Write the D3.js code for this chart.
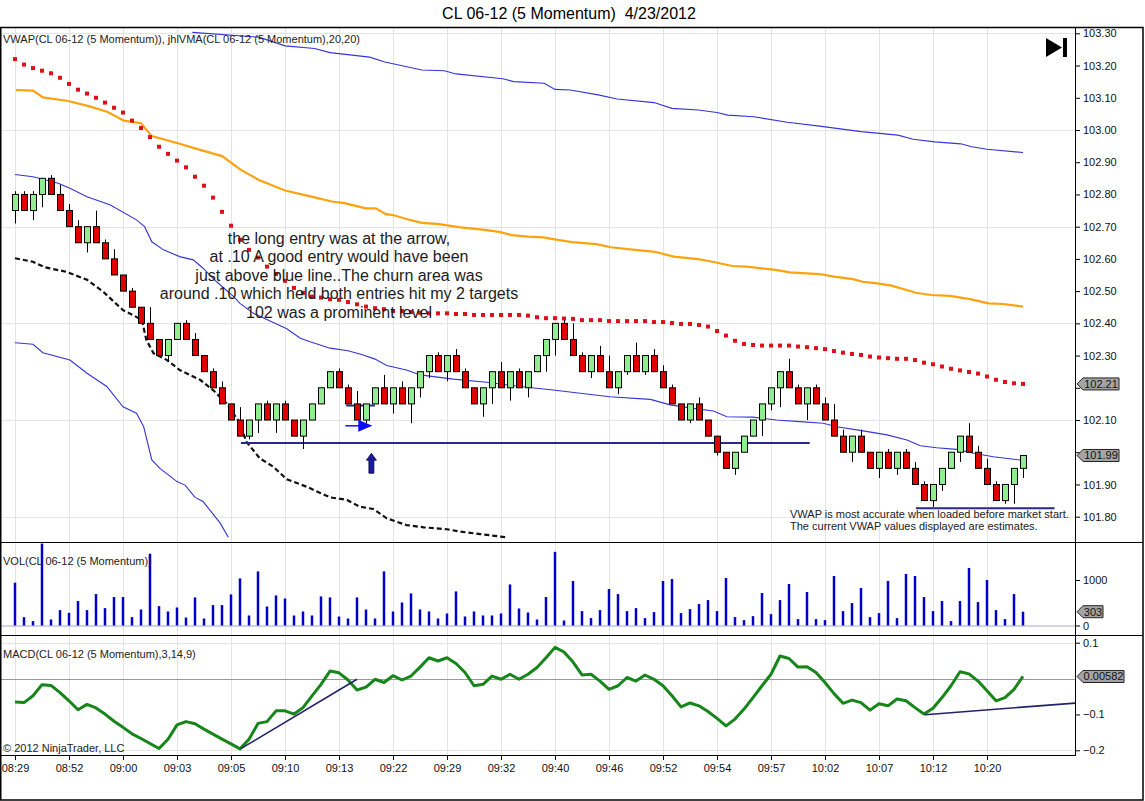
<!DOCTYPE html>
<html>
<head>
<meta charset="utf-8">
<script src="https://cdn.jsdelivr.net/npm/d3@7"></script>
<style>
  body { margin: 0; background: #fff; }
  svg { display: block; font-family: "Liberation Sans", Arial, sans-serif; }
</style>
</head>
<body>
<div id="chart"></div>
<script>
// Bar data (5 tick momentum bars), bar numbers start at 1.
const openP = [
  102.75,102.80,102.75,102.80,102.85,102.80,102.75,102.70,102.65,102.70,
  102.65,102.60,102.55,102.50,102.45,102.40,102.35,102.30,102.35,102.40,
  102.35,102.30,102.25,102.20,102.15,102.10,102.05,102.10,102.15,102.10,
  102.15,102.10,102.05,102.10,102.15,102.20,102.25,102.20,102.15,102.10,
  102.15,102.20,102.15,102.20,102.15,102.20,102.25,102.30,102.25,102.30,
  102.25,102.20,102.15,102.20,102.25,102.20,102.25,102.20,102.25,102.30,
  102.35,102.40,102.35,102.30,102.25,102.30,102.25,102.20,102.25,102.30,
  102.25,102.30,102.25,102.20,102.15,102.10,102.15,102.10,102.05,102.00,
  101.95,102.00,102.05,102.10,102.15,102.20,102.25,102.20,102.15,102.20,
  102.15,102.10,102.05,102.00,102.05,102.00,101.95,102.00,101.95,102.00,
  101.95,101.90,101.85,101.90,101.95,102.00,102.05,102.00,101.95,101.90,
  101.85,101.90,101.95];
const highP = [
  102.81,102.81,102.81,102.85,102.86,102.83,102.77,102.72,102.70,102.75,
  102.66,102.63,102.55,102.51,102.45,102.45,102.35,102.35,102.40,102.41,
  102.37,102.30,102.26,102.22,102.15,102.14,102.10,102.15,102.16,102.15,
  102.16,102.10,102.10,102.15,102.20,102.25,102.26,102.21,102.19,102.15,
  102.20,102.24,102.20,102.22,102.20,102.25,102.30,102.31,102.30,102.32,
  102.26,102.20,102.20,102.25,102.28,102.25,102.26,102.25,102.30,102.35,
  102.40,102.41,102.40,102.31,102.30,102.33,102.30,102.25,102.30,102.34,
  102.30,102.32,102.27,102.21,102.15,102.15,102.17,102.10,102.05,102.00,
  102.00,102.05,102.10,102.15,102.20,102.25,102.29,102.21,102.20,102.21,
  102.17,102.15,102.07,102.05,102.07,102.00,102.00,102.01,102.00,102.01,
  101.97,101.91,101.90,101.95,102.00,102.05,102.09,102.02,101.98,101.91,
  101.90,101.95,101.99];
const lowP = [
  102.71,102.75,102.72,102.76,102.80,102.75,102.70,102.65,102.62,102.65,
  102.60,102.55,102.50,102.45,102.40,102.35,102.30,102.28,102.35,102.35,
  102.30,102.25,102.20,102.15,102.10,102.05,102.04,102.06,102.10,102.06,
  102.10,102.05,102.01,102.10,102.15,102.20,102.20,102.15,102.10,102.09,
  102.15,102.15,102.12,102.15,102.09,102.17,102.23,102.25,102.22,102.25,
  102.20,102.15,102.11,102.15,102.20,102.16,102.20,102.17,102.25,102.25,
  102.30,102.35,102.30,102.25,102.23,102.25,102.20,102.18,102.24,102.25,
  102.24,102.25,102.20,102.15,102.10,102.09,102.10,102.05,101.99,101.95,
  101.93,102.00,102.05,102.05,102.13,102.14,102.20,102.15,102.10,102.15,
  102.10,102.05,102.00,101.97,102.00,101.95,101.92,101.95,101.93,101.95,
  101.90,101.85,101.83,101.88,101.95,101.97,102.00,101.95,101.90,101.85,
  101.84,101.84,101.92];
const closeP = [
  102.80,102.75,102.80,102.85,102.80,102.75,102.70,102.65,102.70,102.65,
  102.60,102.55,102.50,102.45,102.40,102.35,102.30,102.35,102.40,102.35,
  102.30,102.25,102.20,102.15,102.10,102.05,102.10,102.15,102.10,102.15,
  102.10,102.05,102.10,102.15,102.20,102.25,102.20,102.15,102.10,102.15,
  102.20,102.15,102.20,102.15,102.20,102.25,102.30,102.25,102.30,102.25,
  102.20,102.15,102.20,102.25,102.20,102.25,102.20,102.25,102.30,102.35,
  102.40,102.35,102.30,102.25,102.30,102.25,102.20,102.25,102.30,102.25,
  102.30,102.25,102.20,102.15,102.10,102.15,102.10,102.05,102.00,101.95,
  102.00,102.05,102.10,102.15,102.20,102.25,102.20,102.15,102.20,102.15,
  102.10,102.05,102.00,102.05,102.00,101.95,102.00,101.95,102.00,101.95,
  101.90,101.85,101.90,101.95,102.00,102.05,102.00,101.95,101.90,101.85,
  101.90,101.95,101.99];

const volume = [
  941,184,96,1800,132,338,279,537,338,691,382,625,625,184,
  352,1578,426,308,396,176,617,154,448,448,683,1035,220,1189,418,660,
  594,220,308,220,639,617,198,154,617,352,154,1189,308,506,705,352,
  308,154,264,749,198,308,220,220,264,903,374,286,132,
  625,1618,110,978,316,162,338,801,691,316,382,162,294,978,1022,272,
  360,471,559,316,1044,184,118,206,713,250,559,912,140,735,140,118,
  1088,316,493,824,184,272,978,162,1132,1088,625,316,537,96,537,1265,
  515,1000,338,140,691,303];

const macd = [
  -0.065,-0.067,-0.048,-0.017,-0.019,-0.039,-0.062,-0.087,-0.072,-0.082,
  -0.099,-0.119,-0.136,-0.154,-0.167,-0.181,-0.195,-0.169,-0.129,-0.120,
  -0.126,-0.141,-0.155,-0.169,-0.182,-0.196,-0.169,-0.125,-0.120,-0.090,
  -0.090,-0.099,-0.081,-0.048,-0.016,0.021,0.016,-0.004,-0.032,-0.024,
  -0.002,-0.011,0.008,-0.004,0.007,0.032,0.058,0.049,0.058,0.042,
  0.017,-0.020,-0.016,0.007,-0.002,0.012,-0.002,0.012,0.031,0.058,
  0.087,0.074,0.046,0.010,0.012,-0.007,-0.030,-0.020,0.003,-0.007,
  0.010,-0.002,-0.020,-0.048,-0.079,-0.068,-0.076,-0.092,-0.111,-0.132,
  -0.113,-0.085,-0.053,-0.020,0.012,0.063,0.056,0.032,0.033,0.017,
  -0.011,-0.042,-0.069,-0.060,-0.067,-0.088,-0.070,-0.076,-0.057,-0.062,
  -0.081,-0.099,-0.083,-0.053,-0.020,0.019,0.013,-0.007,-0.034,-0.062,
  -0.053,-0.030,0.00582];

// jhlVMA, drawn as red squares, one per bar.
const jhlVMA = [
  103.220,103.203,103.192,103.184,103.176,103.162,103.143,103.125,103.113,103.100,
  103.085,103.069,103.054,103.029,103.006,102.978,102.948,102.926,102.905,102.884,
  102.855,102.827,102.790,102.746,102.703,102.659,102.628,102.604,102.576,102.553,
  102.532,102.510,102.495,102.483,102.480,102.475,102.473,102.466,102.459,102.452,
  102.447,102.444,102.438,102.438,102.435,102.433,102.431,102.431,102.431,102.429,
  102.429,102.426,102.426,102.426,102.426,102.426,102.426,102.424,102.419,102.416,
  102.416,102.415,102.414,102.410,102.410,102.410,102.407,102.407,102.407,102.407,
  102.407,102.404,102.404,102.401,102.398,102.398,102.395,102.390,102.376,102.362,
  102.346,102.336,102.333,102.331,102.331,102.331,102.331,102.328,102.326,102.323,
  102.320,102.314,102.309,102.305,102.302,102.297,102.294,102.292,102.290,102.290,
  102.286,102.278,102.273,102.266,102.259,102.254,102.249,102.244,102.235,102.225,
  102.218,102.214,102.212];

// VWAP lines, read as [bar, price] pairs.
const vwapMid = [
  [1,102.862],[3,102.855],[5.8,102.835],[7.1,102.819],[9,102.793],[11.6,102.767],
  [14.5,102.721],[15.4,102.700],[16.2,102.653],[17.5,102.628],[19.3,102.607],
  [20.8,102.597],[21.9,102.571],[23.4,102.529],[25.3,102.483],[26,102.462],
  [27.5,102.431],[29.1,102.410],[31.2,102.383],[32.7,102.354],[33.8,102.343],
  [36,102.323],[38,102.315],[39.7,102.302],[41,102.289],[42.3,102.269],
  [44.5,102.255],[46,102.240],[49.7,102.227],[53.4,102.217],[57.1,102.204],
  [60.8,102.193],[63.8,102.183],[67.1,102.172],[71.6,102.164],[73.8,102.147],
  [76.4,102.136],[78.6,102.128],[80.1,102.110],[83,102.109],[85.6,102.100],
  [88.2,102.095],[90.8,102.090],[92.3,102.079],[94.9,102.068],[97.9,102.054],
  [100.1,102.038],[101.6,102.020],[103.4,102.014],[105.6,102.009],[107.5,101.997],
  [109.7,101.986],[112.7,101.976]];
const vwapUpper = [
  [20.7,103.303],[28.1,103.288],[31,103.261],[34.3,103.253],[36,103.240],
  [40.4,103.226],[42.1,103.211],[46.2,103.186],[48.7,103.184],[50,103.174],
  [55.2,103.159],[56.4,103.150],[59.8,103.145],[61,103.126],[62.7,103.124],
  [65.8,103.109],[67.9,103.096],[72,103.085],[74,103.067],[76.9,103.062],
  [79,103.054],[80.2,103.046],[83.1,103.041],[86.8,103.024],[90.4,103.012],
  [95,102.995],[99.1,102.984],[100.8,102.971],[103.2,102.963],[106.1,102.957],
  [107.3,102.948],[109,102.940],[113,102.930]];
const vwapLower = [
  [1,102.340],[3,102.335],[4.1,102.309],[7.1,102.286],[9,102.245],[11.2,102.204],
  [13,102.141],[14.5,102.121],[15.3,102.079],[16.2,101.976],[17.1,101.950],
  [19,101.909],[19.9,101.898],[21,101.860],[21.9,101.847],[23.8,101.780],
  [24.7,101.736]];
const orangeLine = [
  [1.1,103.124],[3,103.122],[4.1,103.101],[6.9,103.090],[9.2,103.074],[11.3,103.056],
  [13.1,103.029],[15,103.021],[16.2,102.981],[19.1,102.959],[21.1,102.942],
  [24,102.919],[26.1,102.876],[28.1,102.845],[31,102.812],[34.3,102.791],
  [36.2,102.778],[37.6,102.773],[40,102.757],[41.1,102.757],[42.2,102.739],
  [43,102.736],[44.6,102.723],[46.2,102.712],[48.1,102.708],[50.5,102.698],
  [53.2,102.690],[54.8,102.684],[56.2,102.674],[58,102.669],[59.7,102.667],
  [61.3,102.659],[62.9,102.652],[65.6,102.646],[67.2,102.636],[69.9,102.628],
  [72.1,102.622],[74.2,102.607],[76.9,102.599],[78.5,102.591],[80.7,102.578],
  [82.3,102.576],[85.5,102.566],[87.1,102.558],[90.4,102.553],[92,102.545],
  [94.1,102.537],[95.2,102.529],[96.8,102.524],[98.4,102.517],[101.1,102.495],
  [102.8,102.488],[104.9,102.485],[107.1,102.475],[109.2,102.462],[110.8,102.460],
  [113,102.452]];
const dashedLine = [
  [1,102.602],[3,102.591],[4.3,102.574],[6.7,102.560],[9,102.535],[10.8,102.498],
  [13,102.441],[14.1,102.426],[15.1,102.410],[15.6,102.348],[16.4,102.307],
  [17.9,102.286],[19.3,102.255],[21.6,102.224],[23,102.193],[24.5,102.152],
  [26,102.090],[26.7,102.033],[28.2,101.981],[29.7,101.955],[31.2,101.916],
  [33.4,101.893],[36,101.860],[37.9,101.852],[39.3,101.831],[40.8,101.824],
  [42.3,101.795],[44.5,101.774],[46.4,101.767],[49,101.761],[50.4,101.754],
  [52.7,101.746],[55.6,101.736]];

// Time axis labels every 6 bars.
const timeBars = [1,7,13,19,25,31,37,43,49,55,61,67,73,79,85,91,97,103,109];
const timeLabels = ["08:29","08:52","09:00","09:03","09:05","09:10","09:13","09:22","09:29",
  "09:32","09:40","09:46","09:52","09:54","09:57","10:02","10:07","10:12","10:20"];

const priceTicks = d3.range(0, 16).map(i => +(101.80 + i * 0.10).toFixed(2));
const priceGrid = [101.80, 102.10, 102.40, 102.70, 103.00, 103.30];
const volTicks = [0, 1000];
const macdTicks = [0.1, -0.1, -0.2];
const macdGrid = [0.1, -0.2];

// Drawn objects (bar, price) and the note text.
const levelLines = [
  { from: 26.1, to: 89.3, price: 102.029 },
  { from: 101.1, to: 116.5, price: 101.826 },
  { from: 37.8, to: 41.0, price: 102.145 }];
const entryArrow = { bar: 40.7, price: 102.082 };
const upArrow = { bar: 40.6, price: 101.997 };
const macdTrends = [
  [[26.1, -0.1955], [39.0, -0.002]],
  [[102.1, -0.1007], [119.0, -0.068]]];
const noteBar = 37, notePrice = 102.664;
const noteLines = ["the long entry was at the arrow,",
  "at .10 A good entry would have been",
  "just above blue line..The churn area was",
  "around .10 which held both entries hit my 2 targets",
  "102 was a prominent level"];

function createChart() {
  const width = 1145, height = 801;
  const left = 1, axisX = 1075, right = 1143;
  const priceTop = 27, priceBottom = 542, volBottom = 635, macdBottom = 755;

  const x = d3.scaleLinear().domain([1, 113]).range([15, 1023]);
  const yPrice = d3.scaleLinear().domain([101.80, 103.30]).range([516.7, 33.3]);
  const yVol = d3.scaleLinear().domain([0, 1000]).range([625.5, 580]);
  const yMacd = d3.scaleLinear().domain([-0.2, 0.1]).range([750.3, 642.7]);

  const svg = d3.create("svg")
      .attr("width", width)
      .attr("height", height)
      .attr("viewBox", [0, 0, width, height]);

  const defs = svg.append("defs");
  const clip = (id, y0, y1) => defs.append("clipPath").attr("id", id)
      .append("rect").attr("x", left).attr("y", y0).attr("width", axisX - left).attr("height", y1 - y0);
  clip("clip-price", priceTop, priceBottom);
  clip("clip-vol", priceBottom, volBottom);
  clip("clip-macd", volBottom, macdBottom);

  // Title.
  svg.append("text")
      .attr("x", 569).attr("y", 19)
      .attr("text-anchor", "middle")
      .attr("font-size", 16)
      .style("white-space", "pre")
      .text("CL 06-12 (5 Momentum)  4/23/2012");

  // Grid lines.
  const grid = svg.append("g").attr("stroke", "#e4e4e4").attr("stroke-width", 1);
  grid.selectAll(".vgrid").data(timeBars).join("line")
      .attr("x1", d => Math.round(x(d)) + 0.5).attr("x2", d => Math.round(x(d)) + 0.5)
      .attr("y1", priceTop).attr("y2", macdBottom);
  grid.selectAll(".pgrid").data(priceGrid).join("line")
      .attr("x1", left).attr("x2", axisX)
      .attr("y1", d => Math.round(yPrice(d)) + 0.5).attr("y2", d => Math.round(yPrice(d)) + 0.5);
  grid.selectAll(".mgrid").data(macdGrid).join("line")
      .attr("x1", left).attr("x2", axisX)
      .attr("y1", d => Math.round(yMacd(d)) + 0.5).attr("y2", d => Math.round(yMacd(d)) + 0.5);

  // Price panel.
  const price = svg.append("g").attr("clip-path", "url(#clip-price)");

  const line = d3.line().x(d => x(d[0])).y(d => yPrice(d[1]));
  [vwapUpper, vwapMid, vwapLower].forEach(s => price.append("path")
      .datum(s).attr("fill", "none").attr("stroke", "#3535d8").attr("stroke-width", 1.1).attr("d", line));
  price.append("path").datum(orangeLine)
      .attr("fill", "none").attr("stroke", "#ffa20e").attr("stroke-width", 2.2).attr("d", line);
  price.append("path").datum(dashedLine)
      .attr("fill", "none").attr("stroke", "#111").attr("stroke-width", 2.2)
      .attr("stroke-dasharray", "5,3").attr("d", line);

  // Red jhlVMA squares.
  price.selectAll(".vma").data(jhlVMA).join("rect")
      .attr("x", (d, i) => x(i + 1) - 2).attr("y", d => yPrice(d) - 2)
      .attr("width", 4).attr("height", 4).attr("fill", "#e0101a");

  // Level lines.
  price.selectAll(".level").data(levelLines).join("line")
      .attr("x1", d => x(d.from)).attr("x2", d => x(d.to))
      .attr("y1", d => yPrice(d.price)).attr("y2", d => yPrice(d.price))
      .attr("stroke", "#28288a").attr("stroke-width", 2);

  // Candles.
  const bars = d3.range(openP.length);
  const candle = price.selectAll(".candle").data(bars).join("g");
  candle.append("line")
      .attr("x1", i => Math.round(x(i + 1)) + 0.5).attr("x2", i => Math.round(x(i + 1)) + 0.5)
      .attr("y1", i => yPrice(highP[i])).attr("y2", i => yPrice(lowP[i]))
      .attr("stroke", "#000").attr("stroke-width", 1);
  candle.append("rect")
      .attr("x", i => Math.round(x(i + 1)) - 2.5)
      .attr("y", i => yPrice(Math.max(openP[i], closeP[i])))
      .attr("width", 6)
      .attr("height", i => Math.max(1, yPrice(Math.min(openP[i], closeP[i])) - yPrice(Math.max(openP[i], closeP[i]))))
      .attr("fill", i => closeP[i] >= openP[i] ? "#90ee90" : "#e00000")
      .attr("stroke", "#000").attr("stroke-width", 1);

  // Entry arrows.
  const ax = x(entryArrow.bar), ay = yPrice(entryArrow.price);
  price.append("line").attr("x1", ax - 27).attr("x2", ax - 13).attr("y1", ay).attr("y2", ay)
      .attr("stroke", "#1010ff").attr("stroke-width", 1.5);
  price.append("path").attr("d", `M${ax},${ay}L${ax - 14},${ay - 6}L${ax - 14},${ay + 6}Z`)
      .attr("fill", "#0a0aff");
  const ux = x(upArrow.bar), uy = yPrice(upArrow.price);
  price.append("path")
      .attr("d", `M${ux},${uy}L${ux + 5},${uy + 7}L${ux + 2.5},${uy + 7}L${ux + 2.5},${uy + 20}` +
                 `L${ux - 2.5},${uy + 20}L${ux - 2.5},${uy + 7}L${ux - 5},${uy + 7}Z`)
      .attr("fill", "#1a1a9a").attr("stroke", "#0a0a50").attr("stroke-width", 0.8);

  // Note text.
  price.append("g")
      .attr("font-size", 16).attr("fill", "#1c1c1c").attr("text-anchor", "middle")
    .selectAll("text").data(noteLines).join("text")
      .attr("x", x(noteBar))
      .attr("y", (d, i) => yPrice(notePrice) + 5.5 + i * 18.5)
      .text(d => d);

  svg.append("text").attr("x", 3).attr("y", 43).attr("font-size", 11).attr("fill", "#222")
      .text("VWAP(CL 06-12 (5 Momentum)), jhlVMA(CL 06-12 (5 Momentum),20,20)");
  svg.append("g").attr("font-size", 11).attr("fill", "#222")
    .selectAll("text").data(["VWAP is most accurate when loaded before market start.",
        "The current VWAP values displayed are estimates."]).join("text")
      .attr("x", 790).attr("y", (d, i) => 518 + i * 11.5).text(d => d);

  // Play-to-end icon.
  svg.append("path").attr("d", "M1046,38L1062,47.5L1046,57Z").attr("fill", "#000");
  svg.append("rect").attr("x", 1063).attr("y", 38).attr("width", 4).attr("height", 19).attr("fill", "#000");

  // Volume panel.
  const vol = svg.append("g").attr("clip-path", "url(#clip-vol)");
  vol.append("line").attr("x1", left).attr("x2", axisX)
      .attr("y1", yVol(0) + 0.5).attr("y2", yVol(0) + 0.5).attr("stroke", "#a8a8c8");
  vol.selectAll(".vbar").data(volume).join("line")
      .attr("x1", (d, i) => x(i + 1)).attr("x2", (d, i) => x(i + 1))
      .attr("y1", yVol(0)).attr("y2", d => yVol(d))
      .attr("stroke", "#0000c8").attr("stroke-width", 2.5);
  svg.append("text").attr("x", 3).attr("y", 564.5).attr("font-size", 11).attr("fill", "#222")
      .text("VOL(CL 06-12 (5 Momentum))");

  // MACD panel.
  const mg = svg.append("g").attr("clip-path", "url(#clip-macd)");
  mg.append("line").attr("x1", left).attr("x2", axisX)
      .attr("y1", Math.round(yMacd(0)) + 0.5).attr("y2", Math.round(yMacd(0)) + 0.5)
      .attr("stroke", "#999");
  mg.append("path").datum(macd)
      .attr("fill", "none").attr("stroke", "#17861a").attr("stroke-width", 3)
      .attr("stroke-linejoin", "round")
      .attr("d", d3.line().x((d, i) => x(i + 1)).y(d => yMacd(d)));
  mg.selectAll(".trend").data(macdTrends).join("path")
      .attr("fill", "none").attr("stroke", "#22226e").attr("stroke-width", 1.6)
      .attr("d", d3.line().x(d => x(d[0])).y(d => yMacd(d[1])));
  svg.append("text").attr("x", 3).attr("y", 657.5).attr("font-size", 11).attr("fill", "#222")
      .text("MACD(CL 06-12 (5 Momentum),3,14,9)");
  svg.append("text").attr("x", 3).attr("y", 752).attr("font-size", 11).attr("fill", "#222")
      .text("\u00a9 2012 NinjaTrader, LLC");

  // Last values, shown as tags on the axis.
  const lastVMA = jhlVMA[jhlVMA.length - 1];
  const lastClose = closeP[closeP.length - 1];
  const tagYs = [yPrice(lastVMA), yPrice(lastClose)];

  // Right axes (price labels hidden where a tag covers them).
  const axisStyle = g => g.call(g => g.select(".domain").remove())
      .call(g => g.selectAll("text").attr("font-size", 11).attr("fill", "#111")
          .attr("font-family", "'Liberation Sans', Arial, sans-serif"));
  svg.append("g").attr("transform", `translate(${axisX},0)`)
      .call(d3.axisRight(yPrice).tickValues(priceTicks).tickSize(5).tickPadding(3).tickFormat(d3.format(".2f")))
      .call(axisStyle)
      .call(g => g.selectAll(".tick text")
          .filter(d => tagYs.some(ty => Math.abs(yPrice(d) - ty) < 11)).remove());
  svg.append("g").attr("transform", `translate(${axisX},0)`)
      .call(d3.axisRight(yVol).tickValues(volTicks).tickSize(5).tickPadding(3).tickFormat(d3.format("d")))
      .call(axisStyle);
  svg.append("g").attr("transform", `translate(${axisX},0)`)
      .call(d3.axisRight(yMacd).tickValues(macdTicks).tickSize(5).tickPadding(3).tickFormat(d3.format(".1f")))
      .call(axisStyle);

  // Time axis.
  svg.append("g").attr("transform", `translate(0,${macdBottom})`)
      .call(d3.axisBottom(x).tickValues(timeBars).tickSize(5).tickPadding(4)
          .tickFormat((d, i) => timeLabels[i]))
      .call(axisStyle);

  function tag(yv, label, w) {
    const x0 = axisX + 2, h = 6;
    const g = svg.append("g");
    g.append("path")
        .attr("d", `M${x0},${yv}L${x0 + 6},${yv - h}L${x0 + w},${yv - h}L${x0 + w},${yv + h}L${x0 + 6},${yv + h}Z`)
        .attr("fill", "#a4a4a4").attr("stroke", "#222").attr("stroke-width", 1);
    g.append("text").attr("x", x0 + 6 + (w - 6) / 2).attr("y", yv + 4)
        .attr("text-anchor", "middle").attr("font-size", 11).attr("fill", "#111").text(label);
  }
  tag(yPrice(lastVMA), d3.format(".2f")(lastVMA), 42);
  tag(yPrice(lastClose), d3.format(".2f")(lastClose), 42);
  tag(yVol(volume[volume.length - 1]), d3.format("d")(volume[volume.length - 1]), 26);
  tag(yMacd(macd[macd.length - 1]), d3.format(".5f")(macd[macd.length - 1]), 47);

  // Panel frames.
  const frame = svg.append("g").attr("stroke", "#000").attr("fill", "none");
  frame.append("rect").attr("x", 0.75).attr("y", priceTop + 0.5)
      .attr("width", right - 0.75).attr("height", height - priceTop - 1.5).attr("stroke-width", 1.5);
  [priceBottom, volBottom].forEach(yy => frame.append("line")
      .attr("x1", 0).attr("x2", right).attr("y1", yy + 0.5).attr("y2", yy + 0.5));
  frame.append("line").attr("x1", 0).attr("x2", axisX).attr("y1", macdBottom + 0.5).attr("y2", macdBottom + 0.5);
  frame.append("line").attr("x1", axisX + 0.5).attr("x2", axisX + 0.5).attr("y1", priceTop).attr("y2", macdBottom + 1);

  return svg.node();
}

document.getElementById("chart").appendChild(createChart());
</script>
</body>
</html>
